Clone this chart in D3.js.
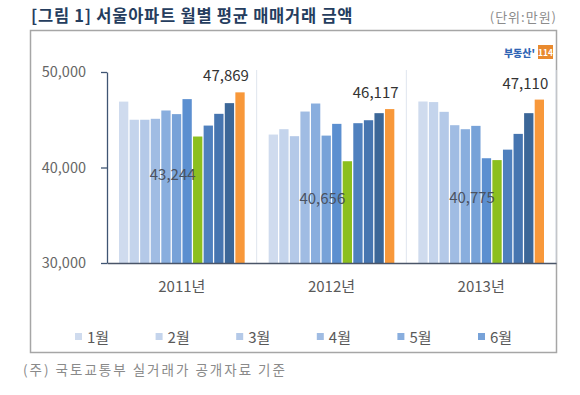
<!DOCTYPE html>
<html>
<head>
<meta charset="utf-8">
<script src="https://cdn.jsdelivr.net/npm/d3@7"></script>
<style>
  body { margin: 0; background: #fff; }
  svg { display: block; font-family: "Noto Sans CJK KR", "Noto Sans", sans-serif; }
</style>
</head>
<body>
<script>
// 데이터
const years = ["2011년", "2012년", "2013년"];
const months = ["1월", "2월", "3월", "4월", "5월", "6월", "7월", "8월", "9월", "10월", "11월", "12월"];
const price2011 = [46900, 45000, 45000, 45100, 45970, 45590, 47160, 43244, 44390, 45620, 46740, 47869];
const price2012 = [43450, 44010, 43280, 45860, 46700, 43340, 44570, 40656, 44640, 44950, 45690, 46117];
const price2013 = [46910, 46850, 45830, 44430, 44010, 44360, 40970, 40775, 41870, 43520, 45690, 47110];
const yTicks = [30000, 40000, 50000];
const legendMonths = months.slice(0, 6);
const labelMonths = ["8월", "12월"];

const series = [price2011, price2012, price2013];

const w = 580;
const h = 395;

const monthColor = d3.scaleOrdinal()
  .domain(months)
  .range(["#cfdbee", "#c4d4ec", "#b4c9e8", "#a0bce3", "#89aede", "#77a2d8", "#5b8fd0",
           "#8cbf1f", "#4f80be", "#4675b0", "#3c6798", "#f8983a"]);

const svg = d3.select("body").append("svg").attr("width", w).attr("height", h);

// 제목
svg.append("text")
  .attr("x", 31).attr("y", 22)
  .attr("font-size", "16.5px").attr("font-weight", 700)
  .attr("letter-spacing", "0.75px")
  .attr("fill", "#253d5e")
  .text("[그림 1] 서울아파트 월별 평균 매매거래 금액");

svg.append("text")
  .attr("x", 557).attr("y", 22)
  .attr("text-anchor", "end")
  .attr("font-size", "13px").attr("fill", "#8c8c8c")
  .attr("letter-spacing", "1px")
  .text("(단위:만원)");

// 테두리
svg.append("rect")
  .attr("x", 30.5).attr("y", 30.5).attr("width", 526).attr("height", 322)
  .attr("fill", "none").attr("stroke", "#a6a6a6").attr("stroke-width", 1.5);

// 로고
const logo = svg.append("g");
logo.append("text")
  .attr("x", 535).attr("y", 57)
  .attr("text-anchor", "end")
  .attr("font-size", "10px").attr("font-weight", 900)
  .attr("fill", "#2f64b4")
  .text("부동산'");
logo.append("rect")
  .attr("x", 538).attr("y", 45).attr("width", 15).attr("height", 14)
  .attr("fill", "#e98a2e");
logo.append("text")
  .attr("x", 545.5).attr("y", 56)
  .attr("text-anchor", "middle")
  .attr("font-size", "8.5px").attr("font-weight", 700)
  .attr("fill", "#fff")
  .text("114");

// 스케일
const xGroup = d3.scaleBand().domain(years).range([107, 556]);
const xMonth = d3.scaleBand()
  .domain(months)
  .range([12, xGroup.bandwidth() - 12])
  .paddingInner(0.12);
const yScale = d3.scaleLinear().domain([30000, 50000]).range([263, 72]);

// 구분선
svg.append("g")
  .selectAll("line")
  .data(years)
  .enter()
  .append("line")
  .attr("x1", d => xGroup(d) + xGroup.bandwidth())
  .attr("x2", d => xGroup(d) + xGroup.bandwidth())
  .attr("y1", yScale(50000) - 2)
  .attr("y2", yScale(30000))
  .attr("stroke", "#dfe5ee")
  .attr("stroke-width", 1);

// 막대
const groups = svg.append("g")
  .selectAll("g")
  .data(years)
  .enter()
  .append("g")
  .attr("transform", d => "translate(" + xGroup(d) + ",0)");

groups.selectAll("rect")
  .data((d, i) => series[i].map((v, j) => ({ month: months[j], value: v })))
  .enter()
  .append("rect")
  .attr("x", d => xMonth(d.month))
  .attr("y", d => yScale(d.value))
  .attr("width", xMonth.bandwidth())
  .attr("height", d => yScale(30000) - yScale(d.value))
  .attr("fill", d => monthColor(d.month));

// 값 라벨 (8월, 12월)
groups.selectAll("text.val")
  .data((d, i) => series[i]
    .map((v, j) => ({ month: months[j], value: v }))
    .filter(d => labelMonths.includes(d.month)))
  .enter()
  .append("text")
  .attr("class", "val")
  .attr("x", d => xMonth(d.month) + xMonth.bandwidth() / 2 + (d.month === "8월" ? -25 : -14))
  .attr("y", d => yScale(d.value) + (d.month === "8월" ? 43 : -11))
  .attr("text-anchor", "middle")
  .attr("font-size", "15px")
  .attr("fill", d => d.month === "8월" ? "#4a5261" : "#333")
  .text(d => d3.format(",")(d.value));

// Y축
const yAxis = d3.axisLeft(yScale)
  .tickValues(yTicks)
  .tickFormat(d3.format(","))
  .tickSizeInner(6)
  .tickSizeOuter(0)
  .tickPadding(15);

const yG = svg.append("g")
  .attr("transform", "translate(107,0)")
  .call(yAxis);
yG.select(".domain").attr("stroke", "#3f5573").attr("stroke-width", 1.3);
yG.selectAll(".tick line").attr("stroke", "#3f5573").attr("stroke-width", 1.3);
yG.selectAll(".tick text")
  .attr("font-family", "\"Noto Sans CJK KR\", sans-serif")
  .attr("font-size", "14.5px").attr("fill", "#666");

// X축
const xAxis = d3.axisBottom(xGroup).tickSize(0).tickPadding(18);
const xG = svg.append("g")
  .attr("transform", "translate(0," + yScale(30000) + ")")
  .call(xAxis);
xG.select(".domain").attr("stroke", "#4a5568").attr("stroke-width", 1.3);
xG.selectAll(".tick text")
  .attr("font-family", "\"Noto Sans CJK KR\", sans-serif")
  .attr("font-size", "15px").attr("fill", "#595959");

// 범례
const legend = svg.append("g")
  .selectAll("g")
  .data(legendMonths)
  .enter()
  .append("g")
  .attr("transform", (d, i) => "translate(" + (75 + i * 80.6) + ",337)");
legend.append("rect")
  .attr("x", 0).attr("y", -4).attr("width", 7).attr("height", 7)
  .attr("fill", d => monthColor(d));
legend.append("text")
  .attr("x", 12).attr("y", 5.5)
  .attr("font-size", "15px").attr("fill", "#595959")
  .text(d => d);

// 각주
svg.append("text")
  .attr("x", 23).attr("y", 375)
  .attr("font-size", "13.5px").attr("fill", "#8a8a8a")
  .attr("letter-spacing", "2px")
  .text("(주) 국토교통부 실거래가 공개자료 기준");
</script>
</body>
</html>
